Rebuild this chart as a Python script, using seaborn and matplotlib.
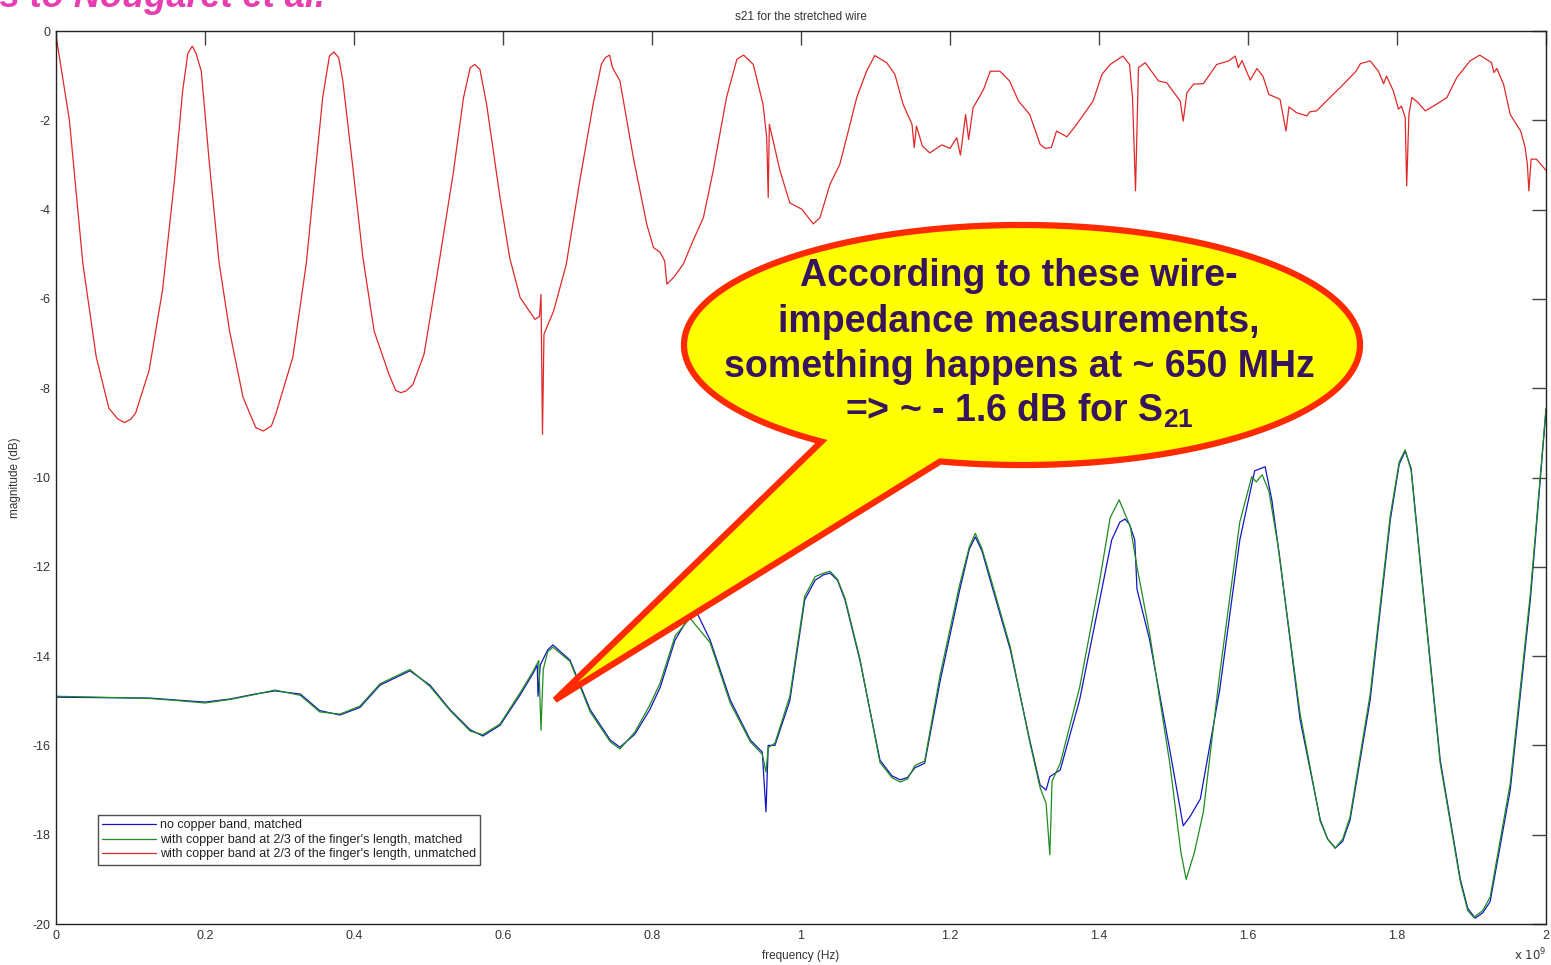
import numpy as np
import pandas as pd
import matplotlib
matplotlib.use("Agg")
import matplotlib.pyplot as plt
from matplotlib.patches import Polygon
import seaborn as sns

# ---- measured S21 traces (frequency in units of 1e9 Hz, magnitude in dB) ----
freq_nocopper = [0.000, 0.059, 0.126, 0.166, 0.200, 0.234, 0.267, 0.294, 0.328, 0.354,
                 0.381, 0.408, 0.435, 0.475, 0.502, 0.529, 0.556, 0.573, 0.596, 0.623,
                 0.640, 0.646, 0.647, 0.650, 0.660, 0.667, 0.690, 0.717, 0.744, 0.757,
                 0.777, 0.797, 0.811, 0.831, 0.851, 0.858, 0.878, 0.905, 0.932, 0.948,
                 0.953, 0.956, 0.965, 0.985, 1.005, 1.019, 1.030, 1.039, 1.049, 1.059,
                 1.079, 1.106, 1.122, 1.133, 1.143, 1.153, 1.166, 1.187, 1.213, 1.226,
                 1.234, 1.243, 1.254, 1.281, 1.307, 1.321, 1.329, 1.334, 1.348, 1.374,
                 1.401, 1.417, 1.428, 1.435, 1.441, 1.448, 1.451, 1.468, 1.495, 1.513,
                 1.522, 1.536, 1.562, 1.589, 1.609, 1.623, 1.632, 1.643, 1.670, 1.697,
                 1.707, 1.717, 1.727, 1.737, 1.764, 1.791, 1.803, 1.811, 1.819, 1.831,
                 1.858, 1.885, 1.895, 1.905, 1.915, 1.925, 1.952, 1.979, 2.000]
mag_nocopper = [-14.92, -14.93, -14.94, -14.99, -15.03, -14.96, -14.85, -14.78, -14.85, -15.22,
                -15.32, -15.15, -14.65, -14.33, -14.65, -15.20, -15.65, -15.79, -15.55, -14.87,
                -14.40, -14.20, -14.90, -14.20, -13.86, -13.75, -14.09, -15.20, -15.88, -16.04,
                -15.75, -15.20, -14.70, -13.64, -13.08, -12.95, -13.64, -14.98, -15.88, -16.15,
                -17.49, -16.00, -16.00, -15.00, -12.74, -12.30, -12.18, -12.14, -12.30, -12.74,
                -14.09, -16.33, -16.68, -16.77, -16.72, -16.50, -16.40, -14.54, -12.52, -11.60,
                -11.33, -11.65, -12.30, -13.86, -15.88, -16.89, -17.00, -16.70, -16.55, -14.98,
                -12.74, -11.40, -11.00, -10.93, -11.05, -11.40, -12.50, -13.64, -16.10, -17.80,
                -17.60, -17.20, -14.76, -11.40, -9.85, -9.76, -10.50, -11.85, -15.43, -17.67,
                -18.10, -18.30, -18.15, -17.67, -14.98, -10.95, -9.70, -9.41, -9.80, -11.85,
                -16.33, -19.00, -19.65, -19.87, -19.75, -19.50, -17.00, -12.74, -8.49]

freq_matched = [0.000, 0.059, 0.126, 0.166, 0.200, 0.234, 0.267, 0.294, 0.328, 0.354,
                0.381, 0.408, 0.435, 0.475, 0.502, 0.529, 0.556, 0.573, 0.596, 0.623,
                0.640, 0.648, 0.651, 0.654, 0.660, 0.667, 0.690, 0.717, 0.744, 0.757,
                0.777, 0.797, 0.811, 0.831, 0.851, 0.878, 0.905, 0.932, 0.948, 0.953,
                0.956, 0.965, 0.985, 1.005, 1.019, 1.029, 1.039, 1.049, 1.059, 1.079,
                1.106, 1.122, 1.133, 1.143, 1.153, 1.166, 1.187, 1.213, 1.226, 1.234,
                1.243, 1.254, 1.281, 1.307, 1.321, 1.329, 1.334, 1.337, 1.348, 1.374,
                1.401, 1.415, 1.427, 1.442, 1.451, 1.468, 1.495, 1.510, 1.517, 1.528,
                1.540, 1.562, 1.589, 1.605, 1.611, 1.619, 1.628, 1.640, 1.670, 1.697,
                1.707, 1.717, 1.727, 1.737, 1.764, 1.791, 1.803, 1.811, 1.819, 1.831,
                1.858, 1.885, 1.895, 1.903, 1.915, 1.925, 1.952, 1.979, 2.000]
mag_matched = [-14.90, -14.92, -14.95, -15.00, -15.05, -14.97, -14.86, -14.76, -14.88, -15.25,
               -15.30, -15.12, -14.62, -14.30, -14.68, -15.22, -15.68, -15.76, -15.52, -14.82,
               -14.35, -14.10, -15.66, -14.30, -13.90, -13.80, -14.12, -15.25, -15.92, -16.08,
               -15.70, -15.10, -14.60, -13.55, -13.15, -13.70, -15.05, -15.92, -16.20, -16.60,
               -16.05, -15.95, -14.90, -12.66, -12.22, -12.15, -12.10, -12.28, -12.70, -14.05,
               -16.38, -16.72, -16.82, -16.75, -16.45, -16.35, -14.40, -12.40, -11.55, -11.25,
               -11.60, -12.22, -13.80, -15.92, -16.95, -17.30, -18.45, -16.80, -16.40, -14.70,
               -12.30, -10.90, -10.50, -11.10, -12.00, -13.50, -16.40, -18.40, -19.00, -18.40,
               -17.50, -14.40, -11.00, -9.98, -10.10, -9.94, -10.30, -11.50, -15.30, -17.70,
               -18.10, -18.30, -18.10, -17.60, -14.85, -10.85, -9.65, -9.38, -9.85, -11.90,
               -16.40, -19.05, -19.70, -19.85, -19.70, -19.40, -16.85, -12.60, -8.45]

freq_unmatched = [0.000, 0.018, 0.036, 0.054, 0.071, 0.083, 0.092, 0.1007, 0.107, 0.125,
                  0.143, 0.159, 0.170, 0.177, 0.183, 0.188, 0.195, 0.206, 0.219, 0.233,
                  0.251, 0.268, 0.278, 0.289, 0.295, 0.318, 0.336, 0.349, 0.358, 0.367,
                  0.373, 0.3795, 0.385, 0.398, 0.412, 0.427, 0.447, 0.456, 0.463, 0.470,
                  0.479, 0.494, 0.511, 0.533, 0.547, 0.556, 0.562, 0.569, 0.578, 0.596,
                  0.609, 0.623, 0.643, 0.649, 0.651, 0.653, 0.655, 0.668, 0.685, 0.703,
                  0.721, 0.732, 0.737, 0.743, 0.747, 0.757, 0.775, 0.793, 0.802, 0.811,
                  0.817, 0.820, 0.829, 0.842, 0.855, 0.869, 0.882, 0.900, 0.914, 0.923,
                  0.936, 0.949, 0.954, 0.956, 0.9575, 0.972, 0.985, 1.001, 1.0165, 1.0255,
                  1.039, 1.052, 1.0635, 1.0748, 1.088, 1.099, 1.115, 1.126, 1.137, 1.149,
                  1.152, 1.155, 1.163, 1.173, 1.189, 1.200, 1.209, 1.214, 1.221, 1.225,
                  1.231, 1.245, 1.254, 1.267, 1.280, 1.292, 1.307, 1.321, 1.328, 1.336,
                  1.343, 1.357, 1.370, 1.392, 1.404, 1.415, 1.432, 1.441, 1.445, 1.449,
                  1.453, 1.462, 1.480, 1.491, 1.509, 1.513, 1.518, 1.527, 1.540, 1.558,
                  1.574, 1.583, 1.587, 1.592, 1.603, 1.612, 1.620, 1.628, 1.643, 1.651,
                  1.655, 1.665, 1.679, 1.683, 1.692, 1.710, 1.726, 1.745, 1.751, 1.764,
                  1.775, 1.782, 1.786, 1.795, 1.802, 1.806, 1.811, 1.813, 1.816, 1.820,
                  1.828, 1.838, 1.853, 1.867, 1.880, 1.898, 1.911, 1.927, 1.930, 1.934,
                  1.943, 1.952, 1.966, 1.972, 1.975, 1.977, 1.980, 1.987, 2.000]
mag_unmatched = [-0.10, -2.00, -5.20, -7.30, -8.45, -8.69, -8.77, -8.69, -8.55, -7.60,
                 -5.80, -3.35, -1.34, -0.50, -0.34, -0.50, -0.90, -2.99, -5.20, -6.72,
                 -8.20, -8.88, -8.96, -8.85, -8.58, -7.30, -5.20, -2.99, -1.49, -0.56,
                 -0.47, -0.60, -1.12, -2.99, -5.08, -6.72, -7.69, -8.05, -8.10, -8.06,
                 -7.92, -7.24, -5.52, -3.21, -1.49, -0.82, -0.75, -0.86, -1.64, -3.73,
                 -5.08, -5.97, -6.46, -6.39, -5.90, -9.03, -6.79, -6.27, -5.22, -3.36,
                 -1.64, -0.75, -0.60, -0.54, -0.82, -1.12, -2.84, -4.33, -4.85, -4.96,
                 -5.15, -5.67, -5.52, -5.22, -4.70, -4.18, -3.14, -1.49, -0.63, -0.54,
                 -0.75, -1.64, -2.39, -3.73, -2.09, -3.14, -3.85, -3.99, -4.32, -4.18,
                 -3.43, -2.99, -2.24, -1.49, -0.90, -0.55, -0.71, -0.97, -1.64, -2.09,
                 -2.61, -2.13, -2.58, -2.73, -2.55, -2.63, -2.39, -2.78, -1.87, -2.43,
                 -1.72, -1.31, -0.90, -0.90, -1.12, -1.57, -1.87, -2.54, -2.63, -2.61,
                 -2.24, -2.37, -2.09, -1.57, -0.97, -0.75, -0.56, -0.75, -1.49, -3.58,
                 -0.82, -0.71, -1.12, -1.16, -1.57, -2.02, -1.38, -1.19, -1.18, -0.75,
                 -0.67, -0.56, -0.82, -0.66, -1.10, -0.84, -1.01, -1.42, -1.53, -2.24,
                 -1.70, -1.83, -1.90, -1.81, -1.79, -1.49, -1.23, -0.90, -0.73, -0.67,
                 -0.90, -1.18, -1.01, -1.34, -1.75, -1.68, -1.94, -3.47, -1.87, -1.49,
                 -1.60, -1.79, -1.64, -1.49, -1.05, -0.67, -0.54, -0.71, -0.93, -0.84,
                 -1.19, -1.87, -2.24, -2.61, -2.99, -3.58, -2.87, -2.87, -3.12]

series_names = ["no copper band, matched",
                "with copper band at 2/3 of the finger's length, matched",
                "with copper band at 2/3 of the finger's length, unmatched"]
series_colors = ["#1414C8", "#1E8C1E", "#E02828"]

x_ticks = [0, 0.2, 0.4, 0.6, 0.8, 1.0, 1.2, 1.4, 1.6, 1.8, 2.0]
x_tick_labels = ["0", "0.2", "0.4", "0.6", "0.8", "1", "1.2", "1.4", "1.6", "1.8", "2"]
y_ticks = [0, -2, -4, -6, -8, -10, -12, -14, -16, -18, -20]
y_tick_labels = ["0", "-2", "-4", "-6", "-8", "-10", "-12", "-14", "-16", "-18", "-20"]

bubble_lines = ["According to these wire-",
                "impedance measurements,",
                "something happens at ~ 650 MHz",
                "=> ~ - 1.6 dB for S$_{21}$"]

# ---- long-form table for seaborn ----
frames = []
for name, fx, my in zip(series_names,
                        [freq_nocopper, freq_matched, freq_unmatched],
                        [mag_nocopper, mag_matched, mag_unmatched]):
    frames.append(pd.DataFrame({"freq": fx, "mag": my, "series": name}))
df = pd.concat(frames, ignore_index=True)

sns.set_style("white")
plt.rcParams["font.family"] = ["Liberation Sans", "DejaVu Sans"]
plt.rcParams["axes.unicode_minus"] = False
plt.rcParams["mathtext.fontset"] = "custom"
plt.rcParams["mathtext.rm"] = "Liberation Sans:bold"
plt.rcParams["mathtext.default"] = "rm"

W, H = 1551, 965
fig = plt.figure(figsize=(W / 100, H / 100), dpi=100)
ax = fig.add_axes([56 / W, 1 - 924 / H, 1490 / W, 893 / H])

sns.lineplot(data=df, x="freq", y="mag", hue="series", hue_order=series_names,
             palette=dict(zip(series_names, series_colors)), estimator=None,
             sort=False, linewidth=0.9, ax=ax, legend=False)

ax.set_xlim(0, 2)
ax.set_ylim(-20, 0)
ax.set_xticks(x_ticks)
ax.set_xticklabels(x_tick_labels)
ax.set_yticks(y_ticks)
ax.set_yticklabels(y_tick_labels)
ax.tick_params(direction="in", length=10, width=1.0, color="#444444",
               labelsize=9, labelcolor="#333333", top=True, right=True, pad=4)
for sp in ax.spines.values():
    sp.set_color("#222222")
    sp.set_linewidth(1.0)

ax.set_xlabel("frequency (Hz)", fontsize=8.5, color="#333333", labelpad=6)
ax.set_ylabel("magnitude (dB)", fontsize=8.5, color="#333333", labelpad=8)
ax.set_title("s21 for the stretched wire", fontsize=8.5, color="#333333", pad=8)
fig.text(1530 / W, 1 - 960 / H, r"x 10$^{9}$", fontsize=8.5, color="#333333",
         ha="center", va="baseline", family=["DejaVu Sans"],
         math_fontfamily="dejavusans")

# legend box
handles = [plt.Line2D([], [], color=c, linewidth=0.9) for c in series_colors]
leg = ax.legend(handles, series_names, loc="upper left",
                bbox_to_anchor=((98 - 56) / 1490, (924 - 815) / 893),
                borderaxespad=0, fontsize=9, handlelength=4.3, handletextpad=0.3,
                labelspacing=0.2, borderpad=0.35, frameon=True, fancybox=False,
                labelcolor="#222222")
leg.get_frame().set_edgecolor("#222222")
leg.get_frame().set_linewidth(1.0)

# speech bubble with its pointer
cx, cy, a, b = 1022, 345, 338, 120
t1, t2 = np.deg2rad(104), np.deg2rad(126.4)
tip = (555, 700)
pts = []
for t in np.linspace(0, t1, 120):
    pts.append((cx + a * np.cos(t), cy + b * np.sin(t)))
pts.append(tip)
for t in np.linspace(t2, 2 * np.pi, 300):
    pts.append((cx + a * np.cos(t), cy + b * np.sin(t)))
pts = np.array(pts)
pts_fig = np.column_stack([pts[:, 0] / W, 1 - pts[:, 1] / H])
bubble = Polygon(pts_fig, closed=True, transform=fig.transFigure,
                 facecolor="#FFFF00", edgecolor="#FF2A00", linewidth=4.5,
                 joinstyle="miter", zorder=10)
fig.patches.append(bubble)

line_y = [276, 322, 367, 411]
for txt, py in zip(bubble_lines, line_y):
    fig.text(1019 / W, 1 - py / H, txt, ha="center", va="center", fontsize=27,
             fontweight="bold", color="#37145E", zorder=11)

# author credit in the slide corner
fig.text(325 / W, 1 - 7 / H, "Thanks to Nougaret et al.", ha="right",
         va="baseline", fontsize=26, fontweight="bold", fontstyle="italic",
         color="#E83DB2")

fig.savefig("out.png", dpi=100)
